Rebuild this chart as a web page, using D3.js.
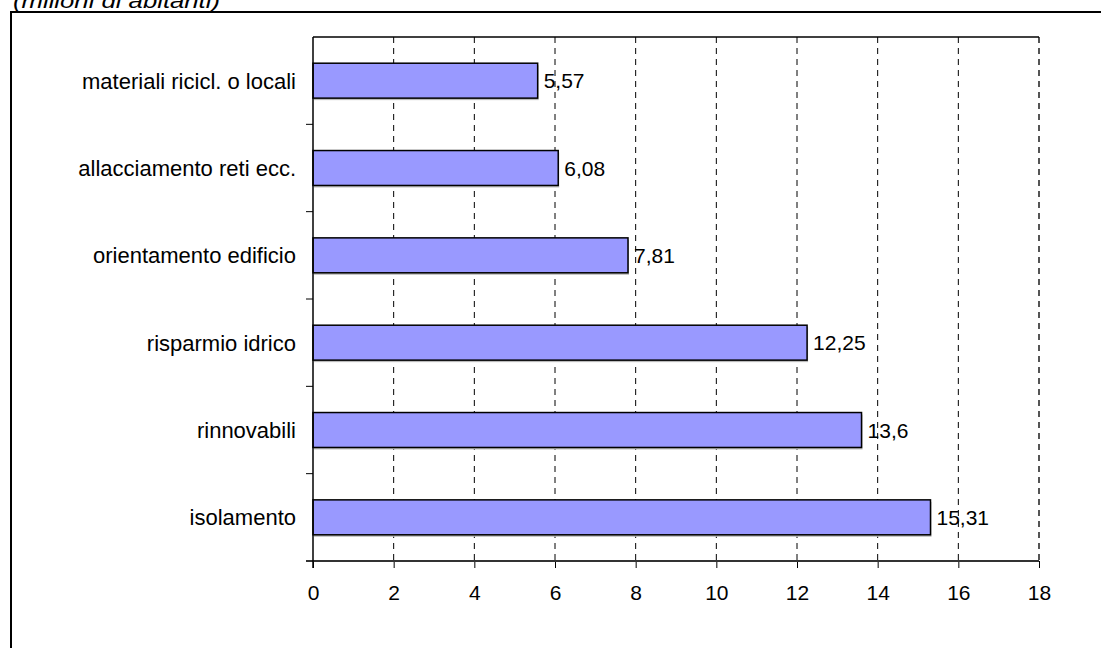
<!DOCTYPE html>
<html>
<head>
    <title>Bar chart</title>
    <script src="https://d3js.org/d3.v7.min.js"></script>
    <style>
        body { margin: 0; background: #fff; overflow: hidden; }
        svg { display: block; }
        .grid line { stroke: #000; stroke-dasharray: 6,5; stroke-width: 1; }
        text { font-family: "Liberation Sans", Arial, sans-serif; fill: #000; }
    </style>
</head>
<body>
    <svg width="1101" height="648"></svg>

    <script>
        // chart data (top to bottom)
        const categories = ["materiali ricicl. o locali", "allacciamento reti ecc.", "orientamento edificio",
                            "risparmio idrico", "rinnovabili", "isolamento"];
        const values = [5.57, 6.08, 7.81, 12.25, 13.6, 15.31];
        const valueLabels = ["5,57", "6,08", "7,81", "12,25", "13,6", "15,31"];
        const xTicks = [0, 2, 4, 6, 8, 10, 12, 14, 16, 18];

        const svg = d3.select("svg");

        // outer frame (extends past the visible area)
        svg.append("rect")
            .attr("x", 11).attr("y", 12)
            .attr("width", 1200).attr("height", 800)
            .attr("fill", "none").attr("stroke", "#000").attr("stroke-width", 2);

        // subtitle, partly cut off at the top like the source
        svg.append("text")
            .attr("x", 13).attr("y", 8)
            .attr("font-size", 20)
            .attr("font-style", "italic")
            .attr("textLength", 207)
            .attr("lengthAdjust", "spacingAndGlyphs")
            .text("(milioni di abitanti)");

        const plotLeft = 313, plotRight = 1039, plotTop = 37, plotBottom = 561;

        const x = d3.scaleLinear().domain([0, 18]).range([plotLeft, plotRight]);
        const y = d3.scaleBand().domain(categories).range([plotTop, plotBottom]).paddingInner(0.6).paddingOuter(0.3);

        // dashed vertical grid
        svg.append("g").attr("class", "grid")
            .selectAll("line")
            .data(xTicks.slice(1, -1))
            .enter().append("line")
            .attr("x1", d => x(d)).attr("x2", d => x(d))
            .attr("y1", plotTop).attr("y2", plotBottom);

        // right edge: darker dashed line
        svg.append("line")
            .attr("x1", plotRight).attr("x2", plotRight).attr("y1", plotTop).attr("y2", plotBottom)
            .attr("stroke", "#555").attr("stroke-width", 2).attr("stroke-dasharray", "6,5");

        // top border of plot
        svg.append("line")
            .attr("x1", plotLeft).attr("x2", plotRight).attr("y1", plotTop).attr("y2", plotTop)
            .attr("stroke", "#000").attr("stroke-width", 1.5);

        // bar shadows then bars
        svg.selectAll(".shadow")
            .data(values)
            .enter().append("rect")
            .attr("class", "shadow")
            .attr("x", plotLeft + 1)
            .attr("y", (d, i) => y(categories[i]) + 2)
            .attr("width", d => x(d) - plotLeft)
            .attr("height", y.bandwidth())
            .attr("fill", "#bbb");

        svg.selectAll(".bar")
            .data(values)
            .enter().append("rect")
            .attr("class", "bar")
            .attr("x", plotLeft)
            .attr("y", (d, i) => y(categories[i]))
            .attr("width", d => x(d) - plotLeft)
            .attr("height", y.bandwidth())
            .attr("fill", "#9999ff")
            .attr("stroke", "#000")
            .attr("stroke-width", 1.5);

        // value labels
        svg.selectAll(".val")
            .data(values)
            .enter().append("text")
            .attr("class", "val")
            .attr("x", d => x(d) + 6)
            .attr("y", (d, i) => y(categories[i]) + y.bandwidth() / 2)
            .attr("dy", "0.36em")
            .attr("font-size", 21)
            .text((d, i) => valueLabels[i]);

        // bottom axis
        const xAxis = d3.axisBottom(x).tickValues(xTicks).tickSize(7).tickPadding(17).tickFormat(d3.format("d"));
        const gx = svg.append("g").attr("transform", `translate(0,${plotBottom})`).call(xAxis);
        gx.select(".domain").remove();
        gx.selectAll("line").attr("stroke", "#000");
        gx.selectAll("text").attr("font-size", 21).attr("font-family", "Liberation Sans, Arial, sans-serif");
        svg.append("line")
            .attr("x1", plotLeft - 7).attr("x2", plotRight).attr("y1", plotBottom).attr("y2", plotBottom)
            .attr("stroke", "#333").attr("stroke-width", 2);

        // left axis with ticks between categories
        svg.append("line")
            .attr("x1", plotLeft).attr("x2", plotLeft).attr("y1", plotTop).attr("y2", plotBottom + 7)
            .attr("stroke", "#000").attr("stroke-width", 1.5);
        const step = y.step();
        svg.selectAll(".ytick")
            .data(categories.slice(1))
            .enter().append("line")
            .attr("x1", plotLeft - 7).attr("x2", plotLeft)
            .attr("y1", d => y(d) - step * y.paddingInner() / 2)
            .attr("y2", d => y(d) - step * y.paddingInner() / 2)
            .attr("stroke", "#000").attr("stroke-width", 1);

        svg.selectAll(".cat")
            .data(categories)
            .enter().append("text")
            .attr("x", plotLeft - 17)
            .attr("y", d => y(d) + y.bandwidth() / 2)
            .attr("dy", "0.36em")
            .attr("text-anchor", "end")
            .attr("font-size", 22)
            .text(d => d);
    </script>
</body>
</html>
